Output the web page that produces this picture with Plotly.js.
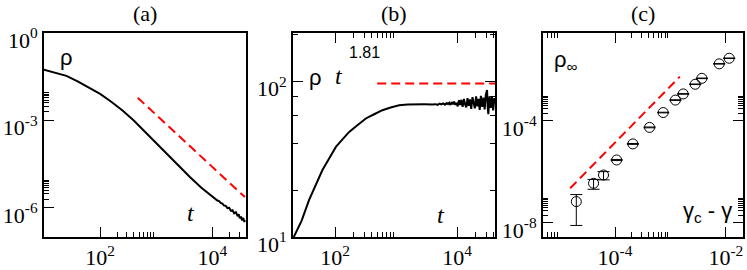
<!DOCTYPE html>
<html>
<head>
<meta charset="utf-8">
<script src="https://cdn.plot.ly/plotly-3.0.1.min.js"></script>
<style>html,body{margin:0;padding:0;background:#fff;}#chart{width:747px;height:270px;}</style>
</head>
<body>
<div id="chart"></div>
<script>
// ---------- Panel (a): rho(t) ----------
const aTime = [10, 15.8, 25.1, 39.8, 63.1, 100, 158, 251, 398, 631, 1000, 1585, 2512, 3981, 6310,
  10000, 10700, 11500, 12300, 13200, 14100, 15100, 16200, 17400, 18600, 20000, 21400, 22900, 24500,
  26300, 28200, 29500, 30900, 32400, 33900, 35500, 37200, 38000];
const aRho = [0.055, 0.0437, 0.0339, 0.0219, 0.0135, 0.00813, 0.00437, 0.00219, 0.001, 4.07e-4, 1.66e-4,
  6.76e-5, 2.75e-5, 1.15e-5, 5.0e-6,
  2.40e-6, 2.19e-6, 2.04e-6, 1.78e-6, 1.70e-6, 1.48e-6, 1.41e-6, 1.20e-6, 1.17e-6, 9.8e-7, 1.0e-6,
  7.9e-7, 8.3e-7, 6.5e-7, 7.1e-7, 5.2e-7, 6.0e-7, 4.4e-7, 5.0e-7, 3.7e-7, 4.5e-7, 3.3e-7, 3.8e-7];
const aFitTime = [468, 38000];
const aFitRho = [6.0e-3, 2.34e-6];

// ---------- Panel (b): rho * t^1.81 ----------
const bTime = [21, 28.2, 37.5, 50.1, 62, 79.4, 103, 132, 170, 229, 319, 436, 596, 813, 1119, 1550, 2100, 2880, 3940,
  4370, 4790, 5130, 5500, 5890, 6310, 6760, 7080, 7410, 7760, 8130, 8510, 8910, 9330, 9770, 10200, 10700,
  11200, 11700, 12300, 12900, 13500, 14100, 14800, 15500, 16200, 17000, 17800, 18600, 19500, 20400, 21400,
  22400, 23400, 24500, 25700, 26900, 28200, 29500, 30900, 31600, 32400, 33900, 35500, 37200, 38900, 40700, 41700];
const bScaled = [10.0, 12.7, 17.3, 22.3, 26.9, 31.8, 37.9, 42.4, 47.3, 52.0, 57.7, 61.4, 65.2, 67.8, 70.2, 71.0, 71.3, 71.1, 71.0,
  71.3, 70.6, 71.8, 71.1, 72.1, 70.8, 72.4, 71.4, 72.9, 70.5, 73.5, 71.1, 74.1, 70.6, 72.6, 69.0, 75.5,
  70.5, 76.0, 68.5, 77.0, 71.0, 68.0, 78.0, 69.5, 76.5, 66.5, 79.0, 70.5, 67.0, 80.0, 69.0,
  77.0, 65.5, 80.5, 68.5, 78.5, 66.0, 82.0, 88.0, 69.0, 61.5, 80.0, 67.5, 79.5, 65.0, 78.0, 72.0];
const bFitTime = [490, 41700];
const bFitScaled = [96.7, 96.7];

// ---------- Panel (c): rho_inf vs gamma_c - gamma ----------
const cDelta = [2.0e-5, 4.1e-5, 6.2e-5, 1.07e-4, 2.1e-4, 4.2e-4, 7.4e-4, 1.23e-3, 1.7e-3, 2.8e-3, 3.7e-3, 7.6e-3, 1.15e-2];
const cRho = [6.9e-8, 3.6e-7, 7.6e-7, 2.95e-6, 1.26e-5, 5.6e-5, 2.14e-4, 6.6e-4, 1.15e-3, 2.75e-3, 4.7e-3, 0.0174, 0.0288];
const cErr = [6.1e-8, 1.5e-7, 2.7e-7, 1.5e-7, 5e-7, 2e-6, 6e-6, 2e-5, 3e-5, 7e-5, 1.2e-4, 4e-4, 7e-4];
const cFitDelta = [1.55e-5, 1.48e-3];
const cFitRho = [2.3e-7, 5.5e-3];

// ---------- Tick labels ----------
const tXVals = [100, 10000];
const tXText = ['10<sup>2</sup>', '10<sup>4</sup>'];
const tXMinor = [200, 300, 400, 500, 600, 700, 800, 900, 20000, 30000, 40000];
const aYVals = [1, 1e-3, 1e-6];
const aYText = ['10<sup>0</sup>', '10<sup>-3</sup>', '10<sup>-6</sup>'];
const aYMinor = [2e-3, 3e-3, 4e-3, 5e-3, 6e-3, 7e-3, 8e-3, 9e-3, 2e-6, 3e-6, 4e-6, 5e-6, 6e-6, 7e-6, 8e-6, 9e-6];
const bYVals = [10, 100];
const bYText = ['10<sup>1</sup>', '10<sup>2</sup>'];
const bYMinor = [20, 40, 60, 80, 200];
const cXVals = [1e-4, 1e-2];
const cXText = ['10<sup>-4</sup>', '10<sup>-2</sup>'];
const cXMinor = [5e-6, 6e-6, 7e-6, 8e-6, 9e-6, 2e-4, 3e-4, 4e-4, 5e-4, 6e-4, 7e-4, 8e-4, 9e-4];
const cYVals = [1e-4, 1e-8];
const cYText = ['10<sup>-4</sup>', '10<sup>-8</sup>'];
const cYMinor = [2e-4, 3e-4, 4e-4, 5e-4, 6e-4, 7e-4, 8e-4, 9e-4, 2e-8, 3e-8, 4e-8, 5e-8, 6e-8, 7e-8, 8e-8, 9e-8];

const SERIF = 'Liberation Serif, Times New Roman, serif';
const SANS = 'Liberation Sans, Arial, sans-serif';
const RED = '#ff0000';
const DASH = '9px,5px';

const traces = [
  {x: aTime, y: aRho, xaxis: 'x', yaxis: 'y', mode: 'lines', line: {color: 'black', width: 2}},
  {x: aFitTime, y: aFitRho, xaxis: 'x', yaxis: 'y', mode: 'lines', line: {color: RED, width: 2, dash: DASH}},
  {x: bTime, y: bScaled, xaxis: 'x2', yaxis: 'y2', mode: 'lines', line: {color: 'black', width: 2}},
  {x: bFitTime, y: bFitScaled, xaxis: 'x2', yaxis: 'y2', mode: 'lines', line: {color: RED, width: 2, dash: DASH}},
  {x: cFitDelta, y: cFitRho, xaxis: 'x3', yaxis: 'y3', mode: 'lines', line: {color: RED, width: 2, dash: DASH}},
  {x: cDelta, y: cRho, xaxis: 'x3', yaxis: 'y3', mode: 'markers',
   marker: {symbol: 'circle-open', size: 10, color: 'black', line: {width: 1, color: 'black'}},
   error_y: {type: 'data', array: cErr, visible: true, color: 'black', thickness: 1, width: 6}}
];

function axis(extra) {
  const base = {
    type: 'log', showgrid: false, zeroline: false, showline: true, linecolor: 'black', linewidth: 2,
    ticks: 'inside', ticklen: 10, tickwidth: 1, tickcolor: 'black', tickmode: 'array',
    tickfont: {family: SERIF, size: 22, color: 'black'}, fixedrange: true
  };
  return Object.assign(base, extra);
}
function minor(vals) {
  return {ticks: 'inside', ticklen: 5, tickwidth: 1, tickcolor: 'black', tickmode: 'array', tickvals: vals, showgrid: false};
}

const yDom = [1 - 237 / 270, 1 - 33 / 270];
const layout = {
  width: 747, height: 270, margin: {l: 0, r: 0, t: 0, b: 0},
  paper_bgcolor: 'white', plot_bgcolor: 'white', showlegend: false,
  font: {family: SERIF, size: 22, color: 'black'},
  xaxis: axis({domain: [44 / 747, 246 / 747], anchor: 'y', range: [1, 4.6], tickvals: tXVals, ticktext: tXText, minor: minor(tXMinor), mirror: true}),
  yaxis: axis({domain: yDom, anchor: 'x', range: [-7, 0], tickvals: aYVals, ticktext: aYText, minor: minor(aYMinor), mirror: true, ticklabelshift: 7}),
  xaxis2: axis({domain: [293 / 747, 495 / 747], anchor: 'y2', range: [1.31, 4.62], tickvals: tXVals, ticktext: tXText, minor: minor(tXMinor), mirror: 'ticks'}),
  yaxis2: axis({domain: yDom, anchor: 'x2', range: [1, 2.31], tickvals: bYVals, ticktext: bYText, minor: minor(bYMinor), mirror: 'ticks', ticklabelshift: 7}),
  xaxis3: axis({domain: [543 / 747, 743 / 747], anchor: 'y3', range: [-5.30, -1.69], tickvals: cXVals, ticktext: cXText, minor: minor(cXMinor), mirror: 'ticks'}),
  yaxis3: axis({domain: yDom, anchor: 'x3', range: [-8.55, -0.55], tickvals: cYVals, ticktext: cYText, minor: minor(cYMinor), mirror: 'ticks', ticklabelshift: 7}),
  annotations: [
    {text: '(a)', xref: 'paper', yref: 'paper', x: 145 / 747, y: 1 - 13 / 270, showarrow: false, xanchor: 'center', yanchor: 'middle', font: {family: SERIF, size: 22}},
    {text: '(b)', xref: 'paper', yref: 'paper', x: 394 / 747, y: 1 - 13 / 270, showarrow: false, xanchor: 'center', yanchor: 'middle', font: {family: SERIF, size: 22}},
    {text: '(c)', xref: 'paper', yref: 'paper', x: 643 / 747, y: 1 - 13 / 270, showarrow: false, xanchor: 'center', yanchor: 'middle', font: {family: SERIF, size: 22}},
    {text: 'ρ', xref: 'paper', yref: 'paper', x: 66 / 747, y: 1 - 57 / 270, showarrow: false, xanchor: 'center', yanchor: 'middle', font: {family: SANS, size: 22}},
    {text: '<i>t</i>', xref: 'paper', yref: 'paper', x: 191 / 747, y: 1 - 213 / 270, showarrow: false, xanchor: 'center', yanchor: 'middle', font: {family: SERIF, size: 24}},
    {text: 'ρ', xref: 'paper', yref: 'paper', x: 315 / 747, y: 1 - 77 / 270, showarrow: false, xanchor: 'center', yanchor: 'middle', font: {family: SANS, size: 22}},
    {text: '<i>t</i>', xref: 'paper', yref: 'paper', x: 339 / 747, y: 1 - 76 / 270, showarrow: false, xanchor: 'center', yanchor: 'middle', font: {family: SERIF, size: 24}},
    {text: '1.81', xref: 'paper', yref: 'paper', x: 347 / 747, y: 1 - 52 / 270, showarrow: false, xanchor: 'left', yanchor: 'middle', font: {family: SANS, size: 16}},
    {text: '<i>t</i>', xref: 'paper', yref: 'paper', x: 441 / 747, y: 1 - 215 / 270, showarrow: false, xanchor: 'center', yanchor: 'middle', font: {family: SERIF, size: 24}},
    {text: 'ρ<sub>∞</sub>', xref: 'paper', yref: 'paper', x: 552 / 747, y: 1 - 61 / 270, showarrow: false, xanchor: 'left', yanchor: 'middle', font: {family: SANS, size: 22}},
    {text: 'γ<sub>c</sub> - γ', xref: 'paper', yref: 'paper', x: 734 / 747, y: 1 - 212 / 270, showarrow: false, xanchor: 'right', yanchor: 'middle', font: {family: SANS, size: 22}}
  ]
};

Plotly.newPlot('chart', traces, layout, {staticPlot: true, displayModeBar: false});
</script>
</body>
</html>
